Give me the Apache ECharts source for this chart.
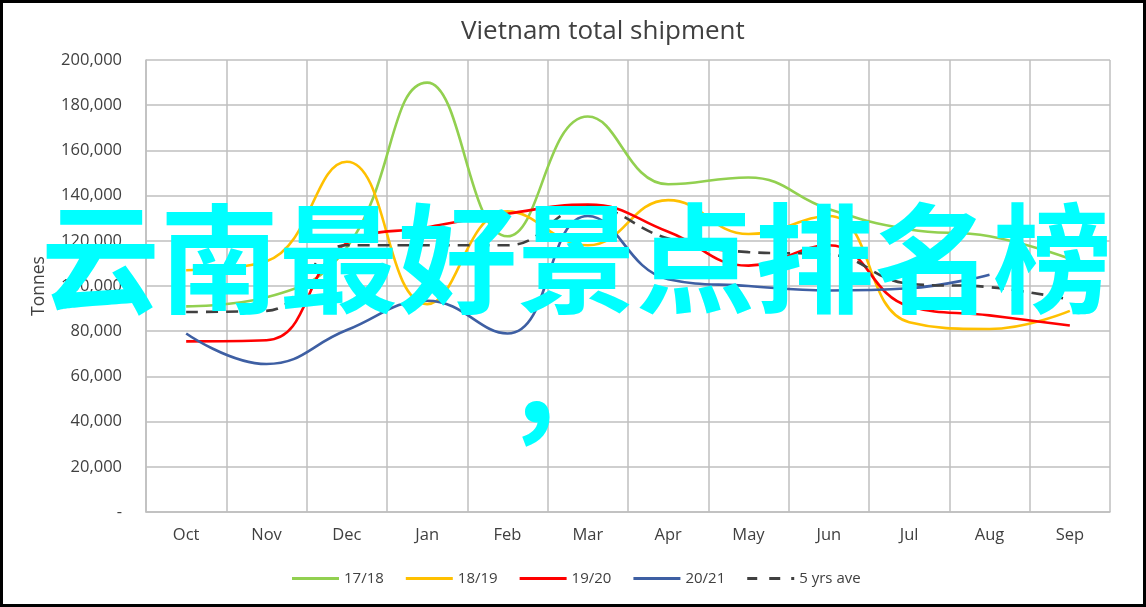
<!DOCTYPE html>
<html><head><meta charset="utf-8">
<script src="https://cdn.jsdelivr.net/npm/echarts@6/dist/echarts.min.js"></script>
<style>
html,body{margin:0;padding:0;background:#fff;}
#frame{position:absolute;left:0;top:0;width:1146px;height:607px;box-sizing:border-box;border:3px solid #000;}
#c{position:absolute;left:0;top:0;width:1146px;height:607px;}
</style></head>
<body>
<div id="c"></div>
<div id="frame"></div>
<script>
var categories = ['Oct','Nov','Dec','Jan','Feb','Mar','Apr','May','Jun','Jul','Aug','Sep'];
var s1718 = [91000, 95000, 117000, 190000, 122000, 175000, 145000, 148000, 134000, 125000, 122000, 112000];
var s1819 = [107000, 111000, 155000, 92000, 133000, 118000, 138000, 123000, 131000, 84000, 81000, 89000];
var s1920 = [75500, 76000, 119000, 126000, 132000, 136000, 124000, 109000, 118000, 91000, 87000, 82500];
var s2021 = [79000, 65500, 80500, 93500, 79000, 131000, 103000, 100000, 98000, 99000, 105000];
var avg5 = [88500, 89000, 118000, 118000, 118000, 135000, 121000, 115000, 114000, 101000, 99500, 94000];
var seriesNames = ['17/18','18/19','19/20','20/21','5 yrs ave'];
var titleText = 'Vietnam total shipment';
var yName = 'Tonnes';
var overlayLine1 = '云南最好景点排名榜';
var overlayLine2 = '，';

var chart = echarts.init(document.getElementById('c'));
var font = 'Open Sans, Liberation Sans, sans-serif';
var dashIcon = 'path://M0,0h10v3h-10z M22,0h11v3h-11z M44,0h3v3h-3z';
function mk(name, data, color, type) {
  return {name: name, type: 'line', data: data, smooth: 0.45, symbol: 'none',
    lineStyle: {color: color, width: 2.6, type: type || 'solid'}, itemStyle: {color: color}, z: 3};
}
chart.setOption({
  animation: false,
  backgroundColor: '#fff',
  title: {text: titleText, left: 456, top: 14,
    textStyle: {fontFamily: font, fontSize: 26, fontWeight: 'normal', color: '#404040'}},
  grid: {left: 146, right: 36, top: 60, bottom: 95},
  legend: {bottom: 16, left: 287, itemWidth: 47, itemHeight: 3, itemGap: 22,
    textStyle: {fontFamily: font, fontSize: 15, color: '#404040'},
    data: [
      {name: seriesNames[0], icon: 'rect'},
      {name: seriesNames[1], icon: 'rect'},
      {name: seriesNames[2], icon: 'rect'},
      {name: seriesNames[3], icon: 'rect'},
      {name: seriesNames[4], icon: dashIcon}
    ]},
  xAxis: {type: 'category', data: categories, boundaryGap: true,
    axisLine: {lineStyle: {color: '#bfbfbf', width: 1.5}},
    axisTick: {show: false},
    axisLabel: {fontFamily: font, fontSize: 16.5, color: '#404040', margin: 15},
    splitLine: {show: true, lineStyle: {color: '#bfbfbf', width: 1.5}}},
  yAxis: {type: 'value', min: 0, max: 200000, interval: 20000,
    name: yName, nameLocation: 'middle', nameGap: 98, nameRotate: 90,
    nameTextStyle: {fontFamily: font, fontSize: 17.5, color: '#404040'},
    axisLine: {show: true, lineStyle: {color: '#bfbfbf', width: 1.5}},
    axisTick: {show: false},
    axisLabel: {fontFamily: font, fontSize: 16.5, color: '#404040', margin: 24,
      formatter: function (v) { return v === 0 ? '-' : v.toLocaleString('en-US'); }},
    splitLine: {lineStyle: {color: '#bfbfbf', width: 1.5}}},
  series: [
    mk(seriesNames[0], s1718, '#92D050'),
    mk(seriesNames[1], s1819, '#FFC000'),
    mk(seriesNames[2], s1920, '#FF0000'),
    mk(seriesNames[3], s2021, '#3E5FA3'),
    mk(seriesNames[4], avg5, '#404040', [12, 8])
  ],
  graphic: [
    {type: 'text', left: 41, top: 199, z: 100,
      style: {text: overlayLine1, fill: '#00FFFF', font: 'bold 119px "Noto Sans CJK SC"'}},
    {type: 'text', left: 503, top: 325, z: 100,
      style: {text: overlayLine2, fill: '#00FFFF', font: 'bold 119px "Noto Sans CJK SC"'}}
  ]
});
</script>
</body></html>
